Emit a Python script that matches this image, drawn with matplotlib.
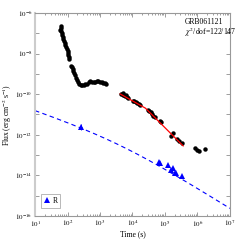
import numpy as np
import matplotlib
matplotlib.use('Agg')
import matplotlib.pyplot as plt
from matplotlib.ticker import FixedLocator, FixedFormatter, LogLocator, NullFormatter

plt.rcParams['font.family'] = ['Liberation Serif', 'DejaVu Serif']
plt.rcParams['mathtext.fontset'] = 'stix'

# X-ray data (log10 of time in s, log10 of flux in erg cm^-2 s^-1)
xrt_logt = [1.80, 1.79, 1.78, 1.80, 1.82, 1.84, 1.86, 1.87, 1.89, 1.91, 1.92,
            1.94, 1.97, 2.00, 2.02, 2.03, 2.05, 2.06,
            2.12, 2.14, 2.16, 2.18, 2.21, 2.24, 2.27, 2.30, 2.33, 2.36, 2.40,
            2.45, 2.50, 2.55, 2.60, 2.65, 2.70, 2.75, 2.80, 2.85, 2.90, 2.95,
            3.00, 3.05, 3.10, 3.15, 3.20,
            3.66, 3.70, 3.72, 3.75, 3.78, 3.80, 3.83, 3.86, 4.02, 4.06, 4.10,
            4.15, 4.20, 4.24, 4.48, 4.52, 4.56, 4.60, 4.64, 4.70, 4.85, 4.89,
            5.18, 5.26, 5.36, 5.44, 5.51, 5.92, 5.99, 6.06, 6.23]
xrt_logf = [-6.62, -6.72, -6.82, -6.90, -6.98, -7.08, -7.18, -7.28, -7.38, -7.48, -7.58,
            -7.68, -7.78, -7.88, -7.98, -8.08, -8.18, -8.28,
            -8.60, -8.68, -8.78, -8.88, -8.98, -9.08, -9.18, -9.30, -9.42, -9.50, -9.53,
            -9.54, -9.53, -9.52, -9.48, -9.42, -9.36, -9.40, -9.42, -9.38, -9.36, -9.37,
            -9.40, -9.42, -9.43, -9.46, -9.48,
            -9.98, -9.95, -10.02, -10.06, -10.10, -10.05, -10.15, -10.20, -10.32, -10.36, -10.40,
            -10.44, -10.48, -10.52, -10.80, -10.85, -10.90, -11.00, -11.08, -11.14, -11.32, -11.38,
            -12.08, -11.92, -12.22, -12.30, -12.42, -12.67, -12.75, -12.80, -12.71]

# R band optical data
r_logt = [2.41, 4.82, 4.86, 5.10, 5.20, 5.26, 5.31, 5.35, 5.51]
r_logf = [-11.60, -13.35, -13.38, -13.49, -13.73, -13.65, -13.87, -13.90, -14.03]

# X-ray broken power-law fit: log t range, break, slopes, flux at break
xfit_range = [3.62, 5.56]
xfit_break = 4.4
xfit_slopes = [0.9, 1.6]
xfit_logfb = -10.69

# optical model: smooth broken power law, normalised at t = 10 s
omod_range = [1.0, 7.0]
omod_break = 3.6
omod_slopes = [0.55, 1.0]
omod_logf0 = -10.81

# axis ticks
x_exps = [1, 2, 3, 4, 5, 6, 7]
y_exps = [-16, -15, -14, -13, -12, -11, -10, -9, -8, -7, -6]


def broken(logt, xb, a1, a2):
    return -np.log10(10**(a1 * (logt - xb)) + 10**(a2 * (logt - xb)))


fig = plt.figure(figsize=(2.4, 2.4), dpi=100)
ax = fig.add_axes([0.146, 0.10, 0.812, 0.846])

# optical model
lt = np.linspace(omod_range[0], omod_range[1], 300)
lf = broken(lt, omod_break, *omod_slopes)
lf = lf - lf[0] + omod_logf0
ax.plot(10**lt, 10**lf, color='blue', ls=(0, (4, 3)), lw=0.8, zorder=2)

# X-ray fit
lt2 = np.linspace(xfit_range[0], xfit_range[1], 200)
lf2 = np.where(lt2 < xfit_break,
               xfit_logfb - xfit_slopes[0] * (lt2 - xfit_break),
               xfit_logfb - xfit_slopes[1] * (lt2 - xfit_break))
ax.plot(10**lt2, 10**lf2, color='red', lw=0.9, zorder=4)

ax.plot(10**np.array(xrt_logt), 10**np.array(xrt_logf), 'o', color='black',
        ms=3.2, mew=0, zorder=3)

rt = 10**np.array(r_logt)
rf = 10**np.array(r_logf)
ax.errorbar(rt[:1], rf[:1], yerr=[[rf[0] * 0.3], [rf[0] * 0.4]],
            xerr=[[rt[0] * 0.1], [rt[0] * 0.1]], fmt='none', ecolor='blue',
            elinewidth=0.6, capsize=0, zorder=5)
ax.plot(rt, rf, '^', color='blue', ms=3.8, mew=0, zorder=5, label='R')

ax.set_xscale('log')
ax.set_yscale('log')
ax.set_xlim(1e1, 1e7)
ax.set_ylim(1e-16, 1e-6)

ax.yaxis.set_major_locator(FixedLocator([10.0**e for e in y_exps]))
ax.yaxis.set_major_formatter(FixedFormatter(
    [r'$10^{%d}$' % e if e % 2 == 0 else '' for e in y_exps]))
ax.yaxis.set_minor_locator(FixedLocator([]))
ax.xaxis.set_major_locator(FixedLocator([10.0**e for e in x_exps]))
ax.xaxis.set_major_formatter(FixedFormatter([r'$10^{%d}$' % e for e in x_exps]))
ax.xaxis.set_minor_locator(LogLocator(base=10, subs=np.arange(2, 10), numticks=20))
ax.xaxis.set_minor_formatter(NullFormatter())

ax.tick_params(which='both', direction='in', top=True, right=True,
               labelsize=5, color='#777777', pad=2)
ax.tick_params(which='major', length=3, width=0.5)
ax.tick_params(which='minor', length=1.5, width=0.5)
for s in ax.spines.values():
    s.set_color('#999999')
    s.set_linewidth(0.8)
ax.spines['left'].set_linewidth(1.5)
ax.spines['left'].set_color('#cccccc')

ax.set_xlabel('Time (s)', fontsize=5.5, labelpad=1)
ax.set_ylabel(r'Flux (erg cm$^{-2}$ s$^{-1}$)', fontsize=5.5, labelpad=1)

ax.text(0.77, 0.955, 'GRB061121', transform=ax.transAxes, fontsize=5.5,
        va='center', ha='left')
ax.text(0.77, 0.905, r'$\chi^2$/dof=122/147', transform=ax.transAxes,
        fontsize=5.5, va='center', ha='left')

leg = ax.legend(loc='lower left', fontsize=5.5, handlelength=0.8,
                handletextpad=0.3, borderpad=0.4, fancybox=False,
                bbox_to_anchor=(0.01, 0.02), markerscale=1.0)
leg.get_frame().set_edgecolor('#999999')
leg.get_frame().set_linewidth(0.6)

fig.savefig('out.png', dpi=100)
